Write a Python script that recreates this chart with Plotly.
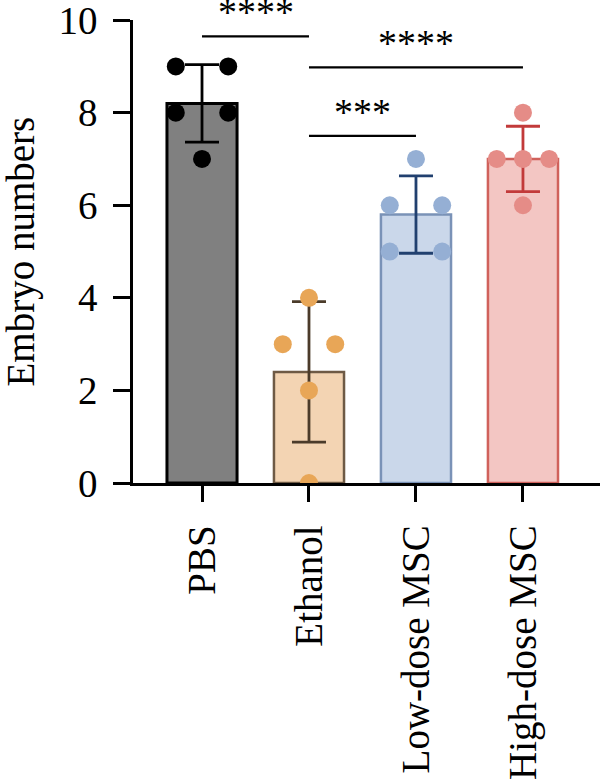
import numpy as np
import plotly.graph_objects as go

# ---- data ----
groups = ["PBS", "Ethanol", "Low-dose MSC", "High-dose MSC"]
pbs_points = [9, 9, 8, 8, 7]
ethanol_points = [4, 3, 3, 2, 0]
low_points = [7, 6, 6, 5, 5]
high_points = [8, 7, 7, 7, 6]
y_ticks = [0, 2, 4, 6, 8, 10]
y_title = "Embryo numbers"

# significance comparisons: (group a, group b, label, bracket level)
comparisons = [
    (0, 1, "****", 9.65),
    (1, 3, "****", 8.98),
    (1, 2, "***", 7.5),
]

# ---- styles ----
fill_colors = ["#808080", "#F3D4B3", "#CAD7EA", "#F3C6C3"]
edge_colors = ["#000000", "#6E5A45", "#7A92B7", "#D0615B"]
err_colors = ["#000000", "#4B3B2A", "#21406F", "#C23A3A"]
point_colors = ["#000000", "#E8A657", "#95AFD4", "#E58C87"]
edge_widths = [3, 2.5, 2.5, 2.5]
FONT = "Liberation Serif"

all_points = [pbs_points, ethanol_points, low_points, high_points]
means = [float(np.mean(p)) for p in all_points]
sds = [float(np.std(p, ddof=1)) for p in all_points]

fig = go.Figure()

for i, g in enumerate(groups):
    fig.add_trace(go.Bar(
        x=[i], y=[means[i]], width=0.655,
        marker=dict(color=fill_colors[i], line=dict(color=edge_colors[i], width=edge_widths[i])),
        error_y=dict(type="data", array=[sds[i]], visible=True,
                     color=err_colors[i], thickness=2.8, width=17),
        showlegend=False, hoverinfo="skip",
    ))

# jittered points: duplicates of a value spread symmetrically
SPREAD = 0.245
for i, pts in enumerate(all_points):
    xs, ys = [], []
    for v in sorted(set(pts), reverse=True):
        n = pts.count(v)
        if n == 1:
            offs = [0.0]
        elif n == 2:
            offs = [-SPREAD, SPREAD]
        else:
            offs = list(np.linspace(-SPREAD, SPREAD, n))
        for o in offs:
            xs.append(i + o)
            ys.append(v)
    fig.add_trace(go.Scatter(
        x=xs, y=ys, mode="markers",
        marker=dict(color=point_colors[i], size=18, line=dict(width=0)),
        showlegend=False, hoverinfo="skip",
    ))

for a, b, label, level in comparisons:
    fig.add_shape(type="line", x0=a, x1=b, y0=level, y1=level,
                  xref="x", yref="y", line=dict(color="black", width=2.3))
    fig.add_annotation(x=(a + b) / 2, y=level, xref="x", yref="y",
                       text=label, showarrow=False, yanchor="middle", yshift=24,
                       font=dict(family=FONT, size=38, color="black"))

fig.add_annotation(x=-113 / 467, y=0.5, xref="paper", yref="paper",
                   text=y_title, textangle=-90, showarrow=False,
                   xanchor="center", yanchor="middle",
                   font=dict(family=FONT, size=39, color="black"))

fig.update_layout(
    width=600, height=783,
    margin=dict(l=133, r=0, t=20, b=300),
    paper_bgcolor="white", plot_bgcolor="white",
    barmode="overlay",
    font=dict(family=FONT, color="black"),
)
fig.update_xaxes(
    range=[-0.645, 3.72], tickmode="array", tickvals=list(range(len(groups))),
    ticktext=groups, tickangle=-90, ticks="outside", ticklen=16, tickwidth=2.5,
    tickcolor="black", showline=True, linewidth=2.5, linecolor="black",
    showgrid=False, zeroline=False, tickfont=dict(family=FONT, size=39, color="black"),
    ticklabelstandoff=8,
)
fig.update_yaxes(
    range=[0, 10.002], tickmode="array", tickvals=y_ticks, ticks="outside",
    ticklen=17, tickwidth=2.5, tickcolor="black", showline=True, linewidth=2.5,
    linecolor="black", showgrid=False, zeroline=False,
    tickfont=dict(family=FONT, size=39, color="black"), ticklabelstandoff=8,
    ticklabeloverflow="allow",
)

fig.write_html("out.html")
